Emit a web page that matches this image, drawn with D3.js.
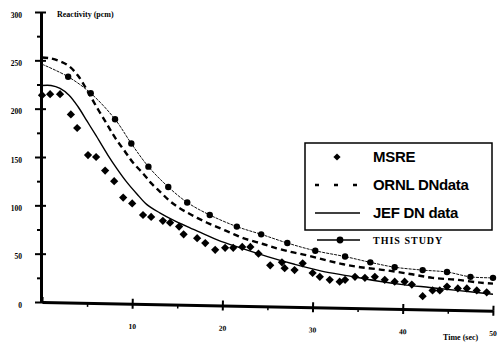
<!DOCTYPE html>
<html>
<head>
<meta charset="utf-8">
<script src="https://cdn.jsdelivr.net/npm/d3@7"></script>
<style>
  body { margin: 0; background: #fff; }
  svg { display: block; }
  .axis text { font-family: "Liberation Serif", serif; font-weight: bold; font-size: 7.5px; fill: #000; }
  .axis line, .axis path { stroke: #000; }
</style>
</head>
<body>
<script>
// values: [time (sec), reactivity (pcm)]
const msre = [
  [0, 214], [0.9, 215], [2.0, 215], [3.2, 194], [3.9, 180], [5.1, 152], [6.0, 150],
  [7.0, 136], [8.0, 125], [9.0, 108], [10.0, 102], [11.2, 90], [12.1, 88], [13.4, 84],
  [14.2, 82], [15.2, 78], [15.7, 70], [17.2, 66], [18.1, 61], [19.2, 54], [20.3, 56],
  [21.2, 56], [22.2, 57], [23.1, 57], [24.0, 50], [25.3, 38], [26.6, 41], [26.9, 35],
  [28.0, 33], [28.9, 40], [30.0, 30], [30.8, 26], [31.9, 23], [33.0, 21], [33.6, 23],
  [34.7, 26], [35.8, 25], [36.9, 26], [38.0, 23], [39.1, 21], [40.2, 21], [41.0, 18],
  [42.2, 6], [43.3, 12], [44.1, 12], [44.9, 16], [46.1, 14], [47.1, 14], [48.2, 12], [49.3, 10]
];

const ornl = [
  [0, 253], [1, 252], [2, 249], [3, 244], [4, 234], [5, 219], [6.1, 201], [7.2, 184],
  [8.1, 170], [9.1, 157], [10.1, 144], [11.2, 133], [12.1, 123], [13.1, 114], [14.1, 105],
  [15.1, 98], [16.2, 92], [17.2, 87], [18.3, 82], [19.3, 78], [20.3, 74], [21.3, 70],
  [22.3, 66], [23.4, 63], [24.5, 60], [25.5, 57], [27.5, 52], [29.5, 48], [31.6, 43],
  [33.4, 39], [35.3, 36], [38.0, 33], [40.8, 29], [43.3, 25], [46.0, 23], [48.6, 20], [50, 19]
];

const jef = [
  [0, 224], [1, 224], [2, 221], [3, 214], [4, 202], [5, 187], [6, 172], [7.3, 152],
  [8.3, 138], [9.4, 124], [10.5, 112], [11.6, 101], [13.1, 92], [14.5, 85], [16.1, 78],
  [17.8, 71], [19.5, 64], [22, 56], [25, 47], [28, 39], [31, 32], [34, 27], [37, 22],
  [40, 18], [43, 15], [46, 12], [50, 8]
];

const thisStudy = [
  [0, 246], [2.9, 233], [5.4, 216], [8.1, 189], [9.9, 164], [11.8, 140], [14.0, 119],
  [16.1, 103], [18.6, 90], [21.6, 78], [24.3, 70], [27.2, 61], [30.3, 53], [33.6, 47],
  [36.4, 41], [39.1, 36], [42.2, 33], [44.9, 31], [47.5, 26], [50, 25]
];

const xTicks = [10, 20, 30, 40, 50];
const xMinor = [5, 15, 25, 35, 45];
const yTicks = [0, 50, 100, 150, 200, 250, 300];
const yMinor = [25, 75, 125, 175, 225, 275];
const legendNames = ["MSRE", "ORNL DNdata", "JEF DN data", "THIS STUDY"];

const width = 500, height = 343;

const svg = d3.select("body").append("svg")
    .attr("width", width)
    .attr("height", height);

const x = d3.scaleLinear().domain([0, 50]).range([42, 493]);
const y = d3.scaleLinear().domain([0, 300]).range([302, 12]);

// y axis: major ticks cross the line, minor ticks on the left
let yAxis = svg.append("g").attr("class", "axis").attr("transform", "translate(41,0)");
yAxis.append("g")
    .call(d3.axisLeft(y).tickValues(yTicks).tickSize(6).tickSizeOuter(0).tickPadding(13))
    .call(g => g.select(".domain").attr("stroke-width", 3))
    .call(g => g.selectAll(".tick line").attr("stroke-width", 2))
    .call(g => g.selectAll(".tick text").attr("dy", "0.7em"));
yAxis.append("g")
    .call(d3.axisRight(y).tickValues(yTicks).tickSize(5).tickFormat(""))
    .call(g => g.select(".domain").remove())
    .call(g => g.selectAll(".tick line").attr("stroke-width", 2));
yAxis.append("g")
    .call(d3.axisLeft(y).tickValues(yMinor).tickSize(4).tickFormat(""))
    .call(g => g.select(".domain").remove())
    .call(g => g.selectAll(".tick line").attr("stroke-width", 2));

// x axis is slightly tilted in the scan
let xAxis = svg.append("g").attr("class", "axis")
    .attr("transform", "rotate(1.1,42,302) translate(0,302)");
xAxis.append("g")
    .call(d3.axisBottom(x).tickValues(xTicks).tickSize(5).tickSizeOuter(0).tickPadding(15))
    .call(g => g.select(".domain").attr("stroke-width", 3))
    .call(g => g.selectAll(".tick line").attr("stroke-width", 2));
xAxis.append("g")
    .call(d3.axisTop(x).tickValues(xTicks.concat([0])).tickSize(5).tickFormat(""))
    .call(g => g.select(".domain").remove())
    .call(g => g.selectAll(".tick line").attr("stroke-width", 2));
xAxis.append("g")
    .call(d3.axisBottom(x).tickValues(xMinor).tickSize(4).tickFormat(""))
    .call(g => g.select(".domain").remove())
    .call(g => g.selectAll(".tick line").attr("stroke-width", 1.5));

svg.append("text")
    .attr("x", 57).attr("y", 17)
    .style("font-family", "Liberation Serif").style("font-weight", "bold").style("font-size", "8px")
    .text("Reactivity (pcm)");

svg.append("text")
    .attr("x", 443).attr("y", 340)
    .style("font-family", "Liberation Serif").style("font-weight", "bold").style("font-size", "8px")
    .text("Time (sec)");

const line = d3.line()
    .x(function(d) { return x(d[0]); })
    .y(function(d) { return y(d[1]); })
    .curve(d3.curveCatmullRom);

svg.append("path")
    .datum(ornl)
    .attr("fill", "none").attr("stroke", "#000")
    .attr("stroke-width", 2.4).attr("stroke-dasharray", "6,4")
    .attr("d", line);

svg.append("path")
    .datum(jef)
    .attr("fill", "none").attr("stroke", "#000")
    .attr("stroke-width", 1.4)
    .attr("d", line);

svg.append("path")
    .datum(thisStudy)
    .attr("fill", "none").attr("stroke", "#111")
    .attr("stroke-width", 1).attr("stroke-dasharray", "3,1")
    .attr("d", line);

svg.selectAll(".study")
    .data(thisStudy.slice(1))
    .enter().append("circle")
    .attr("class", "study")
    .attr("cx", function(d) { return x(d[0]); })
    .attr("cy", function(d) { return y(d[1]); })
    .attr("r", 3.2)
    .attr("fill", "#000");

const diamond = d3.symbol().type(d3.symbolSquare).size(34);
svg.selectAll(".msre")
    .data(msre)
    .enter().append("path")
    .attr("class", "msre")
    .attr("d", diamond)
    .attr("transform", function(d) { return "translate(" + x(d[0]) + "," + y(d[1]) + ") rotate(45)"; })
    .attr("fill", "#000");

// legend
let legend = svg.append("g");
legend.append("rect")
    .attr("x", 305).attr("y", 143).attr("width", 187).attr("height", 87)
    .attr("fill", "#fff").attr("stroke", "#000").attr("stroke-width", 1.5);

const rowY = [157, 185, 213, 240];

legend.append("path")
    .attr("d", d3.symbol().type(d3.symbolSquare).size(26))
    .attr("transform", "translate(337," + rowY[0] + ") rotate(45)");
legend.append("line")
    .attr("x1", 315).attr("x2", 360).attr("y1", rowY[1]).attr("y2", rowY[1])
    .attr("stroke", "#000").attr("stroke-width", 2.4).attr("stroke-dasharray", "4,15");
legend.append("line")
    .attr("x1", 315).attr("x2", 360).attr("y1", rowY[2]).attr("y2", rowY[2])
    .attr("stroke", "#000").attr("stroke-width", 1.6);
legend.append("line")
    .attr("x1", 317).attr("x2", 360).attr("y1", rowY[3]).attr("y2", rowY[3])
    .attr("stroke", "#000").attr("stroke-width", 1.6);
legend.append("circle").attr("cx", 340).attr("cy", rowY[3]).attr("r", 3.4);

legend.selectAll(".lab")
    .data(legendNames)
    .enter().append("text")
    .attr("x", 373)
    .attr("y", function(d, i) { return rowY[i]; })
    .attr("dy", "0.36em")
    .style("font-family", function(d, i) { return i < 3 ? "Liberation Sans" : "Liberation Serif"; })
    .style("font-weight", "bold")
    .style("font-size", function(d, i) { return i < 3 ? "15px" : "10px"; })
    .style("letter-spacing", function(d, i) { return i < 3 ? "-0.3px" : "1px"; })
    .text(function(d) { return d; });
</script>
</body>
</html>
